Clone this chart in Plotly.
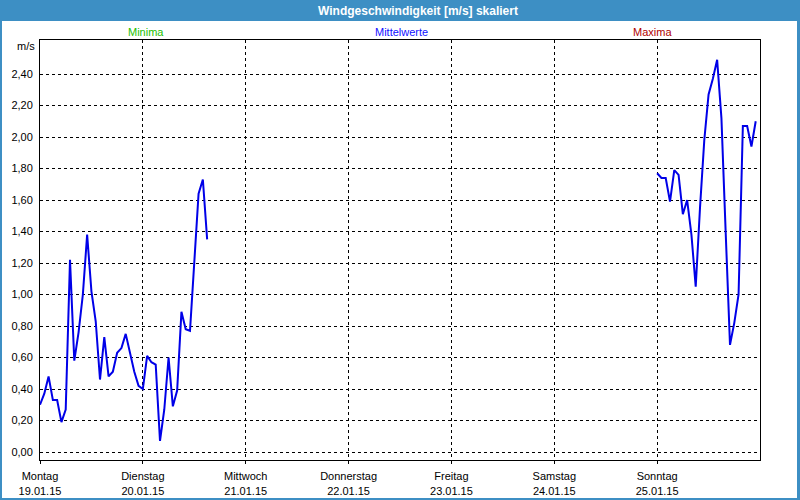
import plotly.graph_objects as go

# ---- data ----
day_names = ["Montag", "Dienstag", "Mittwoch", "Donnerstag", "Freitag", "Samstag", "Sonntag"]
day_dates = ["19.01.15", "20.01.15", "21.01.15", "22.01.15", "23.01.15", "24.01.15", "25.01.15"]
day_start_hours = [0, 24, 48, 72, 96, 120, 144]
y_tick_values = [0.0, 0.2, 0.4, 0.6, 0.8, 1.0, 1.2, 1.4, 1.6, 1.8, 2.0, 2.2, 2.4]

hours_mon_tue = list(range(0, 40))
speed_mon_tue = [0.30, 0.37, 0.48, 0.33, 0.33, 0.19, 0.27, 1.22, 0.58, 0.76,
                 1.00, 1.38, 1.02, 0.83, 0.46, 0.73, 0.48, 0.51, 0.63, 0.66,
                 0.75, 0.62, 0.51, 0.42, 0.40, 0.61, 0.57, 0.555, 0.07, 0.27,
                 0.60, 0.29, 0.39, 0.89, 0.78, 0.77, 1.18, 1.64, 1.73, 1.35]

hours_sun = list(range(144, 168))
speed_sun = [1.77, 1.74, 1.74, 1.59, 1.79, 1.76, 1.51, 1.60, 1.38, 1.05,
             1.55, 1.98, 2.27, 2.37, 2.49, 2.12, 1.39, 0.68, 0.82, 1.00,
             2.07, 2.07, 1.94, 2.10]

x_vals = hours_mon_tue + [None] + hours_sun
y_vals = speed_mon_tue + [None] + speed_sun

FONT = "Liberation Sans, Arial, sans-serif"
W, H = 800, 500
L, R, T, B = 40, 40, 40, 40
PW, PH = W - L - R, H - T - B


def px(xp):
    return (xp - L) / PW


def py(yp):
    return (H - B - yp) / PH


fig = go.Figure()
fig.add_trace(go.Scatter(
    x=x_vals, y=y_vals, mode="lines",
    line=dict(color="#0000e8", width=2),
    connectgaps=False, showlegend=False, hoverinfo="skip",
))

grid = dict(showgrid=True, gridcolor="black", gridwidth=1, griddash="3px,3px",
            zeroline=False, showline=True, linecolor="black", linewidth=1,
            mirror=True, automargin=False)

fig.update_layout(
    width=W, height=H,
    margin=dict(l=L, r=R, t=T, b=B, pad=0, autoexpand=False),
    paper_bgcolor="#3d8fc4",
    plot_bgcolor="white",
    separators=",.",
    font=dict(family=FONT, size=11, color="black"),
    xaxis=dict(range=[0, 168], tickvals=day_start_hours,
               ticktext=[f"{n}<br>{d}" for n, d in zip(day_names, day_dates)],
               ticks="outside", ticklen=3, tickcolor="black", tickwidth=1,
               ticklabelstandoff=3,
               tickfont=dict(family=FONT, size=11, color="black"), **grid),
    yaxis=dict(range=[-0.0508, 2.616], tickvals=y_tick_values, tickformat=".2f",
               ticks="", tickfont=dict(family=FONT, size=11, color="black"),
               ticklabelstandoff=4, **grid),
    shapes=[dict(type="rect", xref="paper", yref="paper",
                 x0=px(2), x1=px(797), y0=py(498), y1=py(21),
                 fillcolor="white", line=dict(width=0), layer="below")],
    annotations=[
        dict(text="<b>Windgeschwindigkeit [m/s] skaliert</b>", xref="paper", yref="paper",
             x=px(418), y=py(10.5), xanchor="center", yanchor="middle", showarrow=False,
             font=dict(family=FONT, size=12, color="white")),
        dict(text="Minima", xref="paper", yref="paper", x=px(146), y=py(32),
             xanchor="center", yanchor="middle", showarrow=False,
             font=dict(family=FONT, size=11, color="#22c000")),
        dict(text="Mittelwerte", xref="paper", yref="paper", x=px(401), y=py(32),
             xanchor="center", yanchor="middle", showarrow=False,
             font=dict(family=FONT, size=11, color="#1010ff")),
        dict(text="Maxima", xref="paper", yref="paper", x=px(652), y=py(32),
             xanchor="center", yanchor="middle", showarrow=False,
             font=dict(family=FONT, size=11, color="#b00000")),
        dict(text="m/s", xref="paper", yref="paper", x=px(37), y=py(46),
             xanchor="right", yanchor="middle", showarrow=False,
             font=dict(family=FONT, size=11, color="black")),
    ],
)

fig.write_html("out.html")
